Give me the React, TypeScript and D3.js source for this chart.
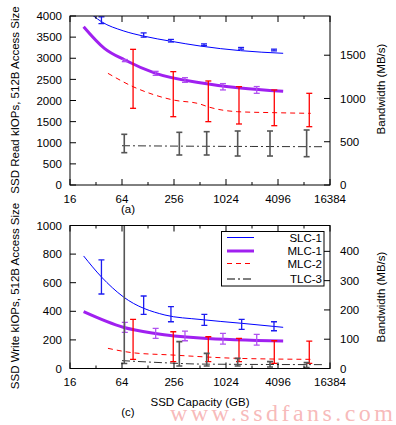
import React from 'react';
import * as d3 from 'd3';

// x ticks (capacity, GB)
const capTicks = [16, 64, 256, 1024, 4096, 16384];
const capMinor = [32, 128, 512, 2048, 8192];
const readTicks = [0, 500, 1000, 1500, 2000, 2500, 3000, 3500, 4000];
const readBwTicks = [0, 500, 1000, 1500];
const writeTicks = [0, 200, 400, 600, 800, 1000];
const writeBwTicks = [0, 100, 200, 300, 400];

const seriesNames = ['SLC-1', 'MLC-1', 'MLC-2', 'TLC-3'];

// ---- (a) read kIOPs ----
// fitted curves
const slcReadFitCap = [23, 30, 37, 66, 112, 240, 512, 1510, 4700];
const slcReadFitVal = [4200, 4000, 3866, 3650, 3527, 3400, 3290, 3180, 3117];
const mlc1ReadFitCap = [23, 40, 69, 157, 512, 1500, 4700];
const mlc1ReadFitVal = [3747, 3235, 2958, 2643, 2421, 2296, 2217];
const mlc2ReadFitCap = [44, 86, 251, 512, 630, 1400, 3700, 9800];
const mlc2ReadFitVal = [2643, 2327, 2012, 1917, 1853, 1735, 1712, 1696];
const tlcReadFitCap = [64, 300, 2000, 13600];
const tlcReadFitVal = [930, 920, 912, 906];
// measured points with error bars
const slcReadCap = [37, 114, 236, 570, 1530, 3680];
const slcReadLo = [3820, 3500, 3385, 3300, 3215, 3175];
const slcReadHi = [3980, 3600, 3445, 3340, 3255, 3215];
const mlc1ReadCap = [69, 157, 343, 944, 2323];
const mlc1ReadLo = [2920, 2595, 2430, 2250, 2170];
const mlc1ReadHi = [2970, 2690, 2540, 2400, 2330];
const mlc2ReadCap = [86, 251, 639, 1448, 3710, 9430];
const mlc2ReadLo = [1815, 1617, 1499, 1444, 1404, 1380];
const mlc2ReadHi = [3211, 2683, 2462, 2327, 2249, 2170];
const tlcReadCap = [68, 295, 612, 1398, 3310, 8790];
const tlcReadLo = [765, 710, 710, 686, 686, 670];
const tlcReadHi = [1200, 1247, 1262, 1278, 1278, 1302];

// ---- (c) write kIOPs ----
const slcWriteFitCap = [23, 37, 66, 201, 512, 1555, 4700];
const slcWriteFitVal = [787, 640, 502, 374, 343, 316, 288];
const mlc1WriteFitCap = [23, 66, 155, 512, 4700];
const mlc1WriteFitVal = [397, 288, 245, 213, 192];
const mlc2WriteFitCap = [44, 86, 251, 512, 1400, 9800];
const mlc2WriteFitVal = [141, 110, 94, 83, 71, 64];
const tlcWriteFitCap = [64, 200, 512, 13600];
const tlcWriteFitVal = [55, 40, 31, 27];
const slcWriteCap = [37, 114, 236, 575, 1555, 3680];
const slcWriteLo = [521, 379, 327, 302, 274, 264];
const slcWriteHi = [759, 507, 432, 379, 344, 327];
const mlc1WriteCap = [69, 157, 343, 944, 2323];
const mlc1WriteLo = [253, 211, 194, 171, 164];
const mlc1WriteHi = [323, 281, 262, 246, 239];
const mlc2WriteCap = [86, 251, 639, 1448, 3710, 9430];
const mlc2WriteLo = [64, 48, 48, 48, 36, 36];
const mlc2WriteHi = [344, 257, 222, 211, 194, 192];
const tlcWriteCap = [68, 295, 612, 1398, 3310, 8790];
const tlcWriteLo = [35, 17, 17, 17, 10, 6];
const tlcWriteHi = [1200, 188, 106, 71, 48, 41];

const styles = [
  { line: '#0000ff', bar: '#1c1cf0', width: 1, dash: undefined },
  { line: '#a020f0', bar: '#b050f0', width: 3, dash: undefined },
  { line: '#ff0000', bar: '#ff0000', width: 1, dash: '5,4' },
  { line: '#333333', bar: '#555555', width: 1, dash: '8,3,2,3' },
];

const font = '"Liberation Sans", Arial, Helvetica, sans-serif';
const x = d3.scaleLog().base(2).domain([16, 16384]).range([70, 330]);
// bandwidth of a 512 B access in MiB/s
const toBw = (k: number) => (k * 1000 * 512) / 1048576;

function Panel(props: any) {
  const { id, y, yTicks, y2, y2Ticks, fits, bars, top, bottom } = props;
  const line = d3
    .line<[number, number]>()
    .x(d => x(d[0]))
    .y(d => y(d[1]))
    .curve(d3.curveMonotoneX);
  return (
    <g>
      <defs>
        <clipPath id={id}>
          <rect x={70} y={top} width={260} height={bottom - top} />
        </clipPath>
      </defs>
      <g clipPath={`url(#${id})`}>
        {fits.map((f: any, i: number) => (
          <path
            key={'f' + i}
            d={line(f.cap.map((c: number, j: number) => [c, f.val[j]]))!}
            fill="none"
            stroke={styles[i].line}
            strokeWidth={styles[i].width}
            strokeDasharray={styles[i].dash}
          />
        ))}
        {bars.map((b: any, i: number) =>
          b.cap.map((c: number, j: number) => {
            const cx = x(c);
            return (
              <g key={'b' + i + '-' + j} stroke={styles[i].bar} strokeWidth={i === 3 ? 1.6 : 1.3}>
                <line x1={cx} x2={cx} y1={y(b.lo[j])} y2={y(b.hi[j])} />
                <line x1={cx - 3} x2={cx + 3} y1={y(b.lo[j])} y2={y(b.lo[j])} />
                <line x1={cx - 3} x2={cx + 3} y1={y(b.hi[j])} y2={y(b.hi[j])} />
              </g>
            );
          })
        )}
      </g>
      <rect x={70} y={top} width={260} height={bottom - top} fill="none" stroke="#000" strokeWidth={1} />
      {capTicks.map(c => (
        <g key={'xt' + c}>
          <line x1={x(c)} x2={x(c)} y1={bottom} y2={bottom - 6} stroke="#000" />
          <line x1={x(c)} x2={x(c)} y1={top} y2={top + 6} stroke="#000" />
        </g>
      ))}
      {capMinor.map(c => (
        <g key={'xm' + c}>
          <line x1={x(c)} x2={x(c)} y1={bottom} y2={bottom - 3} stroke="#000" />
          <line x1={x(c)} x2={x(c)} y1={top} y2={top + 3} stroke="#000" />
        </g>
      ))}
      {yTicks.map((t: number) => (
        <g key={'yt' + t}>
          <line x1={70} x2={76} y1={y(t)} y2={y(t)} stroke="#000" />
          <text x={62} y={y(t)} dy="0.36em" textAnchor="end">
            {t}
          </text>
        </g>
      ))}
      {y2Ticks.map((t: number) => (
        <g key={'y2' + t}>
          <line x1={330} x2={324} y1={y2(t)} y2={y2(t)} stroke="#000" />
          <text x={340} y={y2(t)} dy="0.36em" textAnchor="start">
            {t}
          </text>
        </g>
      ))}
    </g>
  );
}

export default function App() {
  const yRead = d3.scaleLinear().domain([0, 4000]).range([185, 16]);
  const yReadBw = d3.scaleLinear().domain([0, toBw(4000)]).range([185, 16]);
  const yWrite = d3.scaleLinear().domain([0, 1000]).range([368.5, 225.5]);
  const yWriteBw = d3.scaleLinear().domain([0, toBw(1000)]).range([368.5, 225.5]);

  const readFits = [
    { cap: slcReadFitCap, val: slcReadFitVal },
    { cap: mlc1ReadFitCap, val: mlc1ReadFitVal },
    { cap: mlc2ReadFitCap, val: mlc2ReadFitVal },
    { cap: tlcReadFitCap, val: tlcReadFitVal },
  ];
  const readBars = [
    { cap: slcReadCap, lo: slcReadLo, hi: slcReadHi },
    { cap: mlc1ReadCap, lo: mlc1ReadLo, hi: mlc1ReadHi },
    { cap: mlc2ReadCap, lo: mlc2ReadLo, hi: mlc2ReadHi },
    { cap: tlcReadCap, lo: tlcReadLo, hi: tlcReadHi },
  ];
  const writeFits = [
    { cap: slcWriteFitCap, val: slcWriteFitVal },
    { cap: mlc1WriteFitCap, val: mlc1WriteFitVal },
    { cap: mlc2WriteFitCap, val: mlc2WriteFitVal },
    { cap: tlcWriteFitCap, val: tlcWriteFitVal },
  ];
  const writeBars = [
    { cap: slcWriteCap, lo: slcWriteLo, hi: slcWriteHi },
    { cap: mlc1WriteCap, lo: mlc1WriteLo, hi: mlc1WriteHi },
    { cap: mlc2WriteCap, lo: mlc2WriteLo, hi: mlc2WriteHi },
    { cap: tlcWriteCap, lo: tlcWriteLo, hi: tlcWriteHi },
  ];

  const legendY = [237.5, 251, 263.5, 279];

  return (
    <svg
      width={396}
      height={425}
      style={{ position: 'absolute', left: 0, top: 0, background: '#fff' }}
      fontFamily={font}
      fontSize={11.5}
    >
      <rect width={396} height={425} fill="#fff" />
      <Panel id="clipA" y={yRead} yTicks={readTicks} y2={yReadBw} y2Ticks={readBwTicks}
        fits={readFits} bars={readBars} top={16} bottom={185} />
      <Panel id="clipC" y={yWrite} yTicks={writeTicks} y2={yWriteBw} y2Ticks={writeBwTicks}
        fits={writeFits} bars={writeBars} top={225.5} bottom={368.5} />

      {capTicks.map(c => (
        <g key={'xl' + c}>
          <text x={x(c)} y={203} textAnchor="middle">{c}</text>
          <text x={x(c)} y={386} textAnchor="middle">{c}</text>
        </g>
      ))}
      <text x={128} y={213} textAnchor="middle">(a)</text>
      <text x={128} y={416} textAnchor="middle">(c)</text>
      <text x={200} y={406} textAnchor="middle">SSD Capacity (GB)</text>

      <text transform="translate(19,100) rotate(-90)" textAnchor="middle">
        SSD Read kIOPs, 512B Access Size
      </text>
      <text transform="translate(19,296) rotate(-90)" textAnchor="middle">
        SSD Write kIOPs, 512B Access Size
      </text>
      <text transform="translate(385,89) rotate(-90)" textAnchor="middle">
        Bandwidth (MB/s)
      </text>
      <text transform="translate(385,297) rotate(-90)" textAnchor="middle">
        Bandwidth (MB/s)
      </text>

      {/* legend */}
      <rect x={221.5} y={231.5} width={102.5} height={54.5} fill="#fff" stroke="#000" />
      {seriesNames.map((n, i) => (
        <g key={n}>
          <line x1={227} x2={254} y1={legendY[i]} y2={legendY[i]}
            stroke={i === 3 ? '#555' : styles[i].line} strokeWidth={i === 3 ? 1.6 : styles[i].width}
            strokeDasharray={styles[i].dash} />
          <text x={322} y={legendY[i]} dy="0.36em" textAnchor="end">{n}</text>
        </g>
      ))}

      <text x={170} y={421} fontFamily='"Liberation Serif", "DejaVu Serif", serif' fontSize={24}
        fill="#f5a8a8" fillOpacity={0.8} textLength={223} lengthAdjust="spacing">
        www.ssdfans.com
      </text>
    </svg>
  );
}
